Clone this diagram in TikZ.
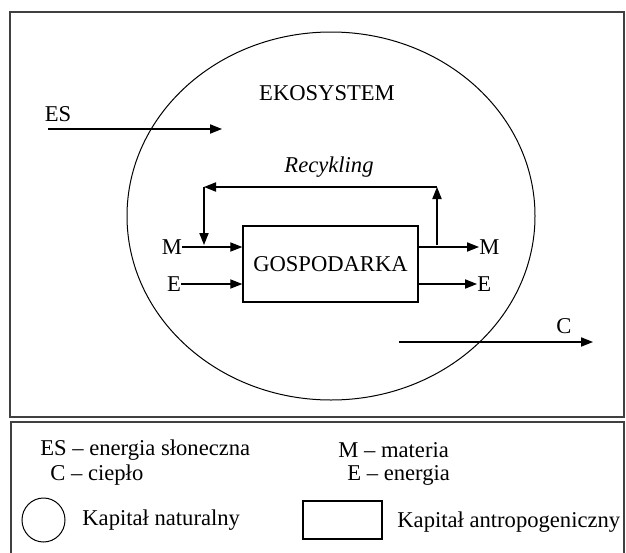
\documentclass[tikz,border=0pt]{standalone}
\usepackage{fontspec}
\setmainfont{Liberation Serif}
\usetikzlibrary{arrows.meta,shapes.geometric}

\begin{document}
\begin{tikzpicture}[x=0.5pt, y=-0.5pt,
                    every node/.style={inner sep=0pt,
                                       font=\fontsize{11.3}{13}\selectfont},
                    flow/.style={-{Triangle[length=6pt,width=4.6pt]},
                                 line width=0.6pt}]
                      \useasboundingbox (0,0) rectangle (626,552);

                      % frames
                      \draw[line width=0.8pt, black!75] (10,12) rectangle (624,417);
                      \draw[line width=0.8pt, black!75] (11,422) rectangle (624,560);

                      % ecosystem and economy
                      \node[draw, ellipse, line width=0.5pt, minimum width=204pt,
                            minimum height=184pt] (eko) at (331,216) {};
                      \node (ekot) at (327,93) {EKOSYSTEM};
                      \node[draw, line width=0.7pt, minimum width=87.5pt,
                            minimum height=38pt] (gosp) at (330.5,264) {GOSPODARKA};

                      \node (es) at (58,114) {ES};
                      \node (c) at (564,326) {C};
                      \node (rec) at (329,167) {\itshape Recykling};

                      \node (min) at (172,247) {M};
                      \node (ein) at (174,284) {E};
                      \node[anchor=west] (mout) at (479,247) {M};
                      \node[anchor=west] (eout) at (477,284) {E};

                      \coordinate (esa) at (48,129);
                      \coordinate (esb) at (222,129);
                      \coordinate (ca) at (399,342);
                      \coordinate (cb) at (593,342);
                      \coordinate (rstart) at (437,245);
                      \coordinate (rup) at (437,187);
                      \coordinate (rleft) at (204,187);
                      \coordinate (rdown) at (204,245);

                      \foreach \i/\j in {esa/esb, ca/cb, rstart/rup, rup/rleft, rleft/rdown} {
                              \draw[flow] (\i) -- (\j);
                          }
                      \foreach \i in {min, ein} {
                              \draw[flow] (\i.east) -- (gosp.west |- \i.east);
                          }
                      \foreach \i in {mout, eout} {
                              \draw[flow] (gosp.east |- \i.west) -- (\i.west);
                          }

                      % legend
                      \node[anchor=base west] (lges) at (40,455) {ES -- energia słoneczna};
                      \node[anchor=base west] (lgc) at (50,480) {C -- ciepło};
                      \node[anchor=base west] (lgm) at (338,457) {M -- materia};
                      \node[anchor=base west] (lge) at (347,480) {E -- energia};
                      \node[draw, ellipse, line width=0.5pt, minimum width=21.5pt,
                            minimum height=22pt] (natsym) at (43.5,520) {};
                      \node[anchor=base west] (natt) at (82,525) {Kapitał naturalny};
                      \node[draw, line width=0.6pt, minimum width=39.5pt,
                            minimum height=19pt] (antsym) at (342.5,520) {};
                      \node[anchor=base west] (antt) at (397,527) {Kapitał antropogeniczny};
                  \end{tikzpicture}
\end{document}
